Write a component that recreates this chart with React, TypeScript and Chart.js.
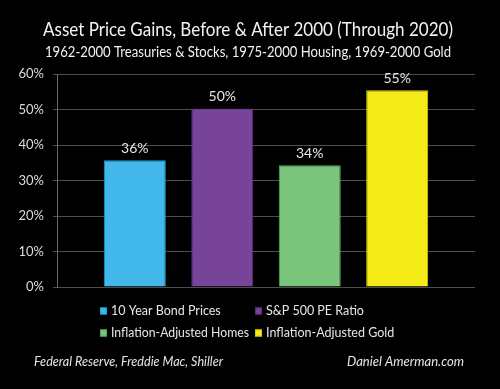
import React, { useEffect, useRef } from "react";
import { Chart, registerables } from "chart.js";

Chart.register(...registerables);

const seriesNames = [
  "10 Year Bond Prices",
  "S&P 500 PE Ratio",
  "Inflation-Adjusted Homes",
  "Inflation-Adjusted Gold",
];
const seriesValues = [35.7, 50.3, 34.3, 55.4];
const valueLabels = ["36%", "50%", "34%", "55%"];
const fillColors = ["#41B8E9", "#77449A", "#7AC57B", "#F4EB19"];
const borderColors = ["#1E9BD0", "#5E2F80", "#4FAF5A", "#D8CC10"];
const yTicks = [0, 10, 20, 30, 40, 50, 60];
const titleText = "Asset Price Gains, Before & After 2000 (Through 2020)";
const subtitleText = "1962-2000 Treasuries & Stocks, 1975-2000 Housing, 1969-2000 Gold";
const sourceText = "Federal Reserve, Freddie Mac, Shiller";
const creditText = "Daniel Amerman.com";

const FONT = "Lato, 'Open Sans', sans-serif";

const decorPlugin = {
  id: "decor",
  beforeDraw(chart: any) {
    const ctx = chart.ctx;
    ctx.save();
    ctx.fillStyle = "#000";
    ctx.fillRect(0, 0, chart.width, chart.height);
    ctx.restore();
  },
  afterDraw(chart: any) {
    const ctx = chart.ctx;
    ctx.save();
    // titles
    ctx.fillStyle = "#f2f2f2";
    ctx.textAlign = "center";
    ctx.textBaseline = "middle";
    ctx.font = `19px ${FONT}`;
    ctx.fillText(titleText, 248, 30, 410);
    ctx.font = `14.5px ${FONT}`;
    ctx.fillText(subtitleText, 248, 52, 406);

    // value labels
    ctx.fillStyle = "#e6e6e6";
    ctx.font = `14px ${FONT}`;
    chart.data.datasets.forEach((ds: any, i: number) => {
      const meta = chart.getDatasetMeta(i);
      const bar = meta.data[0];
      ctx.fillText(valueLabels[i], bar.x, bar.y - 12);
    });

    // legend (2x2 grid)
    ctx.font = `12.5px ${FONT}`;
    ctx.textAlign = "left";
    const colX = [100, 255];
    const rowY = [311, 333];
    seriesNames.forEach((name, i) => {
      const x = colX[i % 2];
      const y = rowY[Math.floor(i / 2)];
      ctx.fillStyle = fillColors[i];
      ctx.fillRect(x, y - 3.5, 7, 7);
      ctx.strokeStyle = borderColors[i];
      ctx.lineWidth = 1;
      ctx.strokeRect(x + 0.5, y - 3, 6, 6);
      ctx.fillStyle = "#e6e6e6";
      ctx.fillText(name, x + 11, y, 138);
    });

    // footer
    ctx.fillStyle = "#e6e6e6";
    ctx.font = `italic 14px ${FONT}`;
    ctx.textAlign = "left";
    ctx.fillText(sourceText, 34, 361, 189);
    ctx.fillText(creditText, 347, 361, 117);
    ctx.restore();
  },
};

export default function App() {
  const ref = useRef<HTMLCanvasElement>(null);
  useEffect(() => {
    document.body.style.margin = "0";
    document.body.style.background = "#000";
    const chart = new Chart(ref.current!, {
      type: "bar",
      data: {
        labels: [""],
        datasets: seriesNames.map((name, i) => ({
          label: name,
          data: [seriesValues[i]],
          backgroundColor: fillColors[i],
          borderColor: borderColors[i],
          borderWidth: 1,
          categoryPercentage: 0.837,
          barPercentage: 0.709,
        })),
      },
      options: {
        responsive: false,
        animation: false,
        layout: { padding: { left: 0, right: 25, top: 74, bottom: 102 } },
        plugins: {
          legend: { display: false },
          title: { display: false },
          tooltip: { enabled: false },
        },
        scales: {
          x: { display: false },
          y: {
            min: 0,
            max: 60,
            afterFit: (s: any) => {
              s.width = 57;
            },
            afterBuildTicks: (s: any) => {
              s.ticks = yTicks.map((v) => ({ value: v }));
            },
            ticks: {
              color: "#dcdcdc",
              font: { family: FONT, size: 13 },
              padding: 9,
              callback: (v: any) => `${v}%`,
            },
            grid: { color: "#4d4d4d", tickLength: 4, lineWidth: 1 },
            border: { color: "#6a6a6a" },
          },
        },
      },
      plugins: [decorPlugin],
    });
    return () => chart.destroy();
  }, []);
  return <canvas ref={ref} width={500} height={389} style={{ display: "block" }} />;
}
